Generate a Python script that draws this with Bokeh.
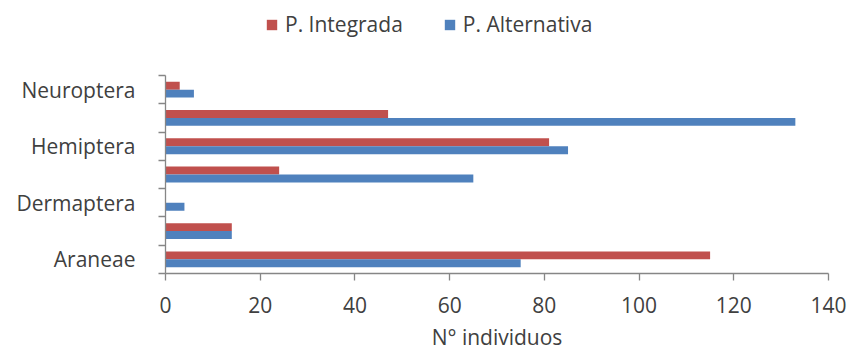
from bokeh.plotting import figure
from bokeh.models import (ColumnDataSource, Range1d, LinearAxis,
                          FixedTicker, Legend, LegendItem)
from bokeh.embed import file_html
from bokeh.resources import INLINE

categories = ["Araneae", "Coleoptera", "Dermaptera", "Diptera",
              "Hemiptera", "Hymenoptera", "Neuroptera"]
shown_labels = ["Araneae", "Dermaptera", "Hemiptera", "Neuroptera"]
integrada = [115, 14, 0, 24, 81, 47, 3]
alternativa = [75, 14, 4, 65, 85, 133, 6]
x_ticks = [0, 20, 40, 60, 80, 100, 120, 140]
series_names = ["P. Integrada", "P. Alternativa"]

RED = "#C0504D"
BLUE = "#4F81BD"
AXIS = "#868686"
TEXT = "#404040"
FONT = "Open Sans"

# layout (pixels)
W, H = 851, 358
FR_LEFT, FR_RIGHT, CAT_TOP, FR_BOTTOM = 165, 828, 75, 273

n = len(categories)
px_per_cat = (FR_BOTTOM - CAT_TOP) / n
y_top = n + CAT_TOP / px_per_cat          # extra room above for the legend

centers = [i + 0.5 for i in range(n)]
BAR_H = 0.28
src = ColumnDataSource(dict(
    cat=categories,
    y_int=[c + BAR_H / 2 for c in centers],
    y_alt=[c - BAR_H / 2 for c in centers],
    integrada=integrada, alternativa=alternativa))

p = figure(width=W, height=H, output_backend="svg", toolbar_location=None,
           y_range=Range1d(0, y_top), x_range=Range1d(0, 140),
           x_axis_location=None, y_axis_location=None,
           min_border_left=FR_LEFT, min_border_right=W - FR_RIGHT, min_border_top=0,
           min_border_bottom=H - FR_BOTTOM)
p.outline_line_color = None
p.xgrid.visible = False
p.ygrid.visible = False
p.background_fill_color = "white"
p.border_fill_color = "white"

r_int = p.hbar(y="y_int", right="integrada", left=0, height=BAR_H, source=src,
               fill_color=RED, line_color=None)
r_alt = p.hbar(y="y_alt", right="alternativa", left=0, height=BAR_H, source=src,
               fill_color=BLUE, line_color=None)

# x axis
xaxis = LinearAxis(ticker=FixedTicker(ticks=x_ticks), axis_label="N° individuos")
xaxis.axis_line_color = AXIS
xaxis.axis_line_width = 1.3
xaxis.major_tick_line_color = AXIS
xaxis.major_tick_line_width = 1.3
xaxis.major_tick_out = 7
xaxis.major_tick_in = 0
xaxis.minor_tick_line_color = None
xaxis.major_label_text_font = FONT
xaxis.major_label_text_font_size = "21px"
xaxis.major_label_text_color = TEXT
xaxis.major_label_standoff = 16
xaxis.axis_label_text_font = FONT
xaxis.axis_label_text_font_size = "21px"
xaxis.axis_label_text_font_style = "normal"
xaxis.axis_label_text_color = TEXT
xaxis.axis_label_standoff = 7
p.add_layout(xaxis, "below")

# y tick axis (ticks between categories)
bounds = list(range(n + 1))
tick_axis = LinearAxis(ticker=FixedTicker(ticks=bounds), bounds=(0, n))
tick_axis.major_label_text_alpha = 0
tick_axis.major_label_text_font_size = "1px"
tick_axis.axis_line_color = AXIS
tick_axis.axis_line_width = 1.3
tick_axis.major_tick_line_color = AXIS
tick_axis.major_tick_line_width = 1.3
tick_axis.major_tick_out = 7
tick_axis.major_tick_in = 0
tick_axis.minor_tick_line_color = None
tick_axis.major_label_standoff = 0
p.add_layout(tick_axis, "left")

# y label axis (category names at centres)
cat_axis = LinearAxis(ticker=FixedTicker(ticks=centers), bounds=(0, n))
cat_axis.major_label_overrides = {float(c): (name if name in shown_labels else " ")
                                  for c, name in zip(centers, categories)}
cat_axis.axis_line_color = None
cat_axis.major_tick_line_color = None
cat_axis.minor_tick_line_color = None
cat_axis.major_label_text_font = FONT
cat_axis.major_label_text_font_size = "21px"
cat_axis.major_label_text_color = TEXT
cat_axis.major_label_standoff = 17
p.add_layout(cat_axis, "left")

legend = Legend(items=[LegendItem(label=series_names[0], renderers=[r_int]),
                       LegendItem(label=series_names[1], renderers=[r_alt])],
                orientation="horizontal", location=(100, FR_BOTTOM - 38))
legend.label_text_font = FONT
legend.label_text_font_size = "21px"
legend.label_text_color = TEXT
legend.glyph_width = 13
legend.glyph_height = 13
legend.label_standoff = 7
legend.spacing = 40
legend.border_line_color = None
legend.background_fill_alpha = 0
legend.padding = 0
legend.margin = 0
p.add_layout(legend, "center")

open("out.html", "w").write(file_html(p, INLINE))
